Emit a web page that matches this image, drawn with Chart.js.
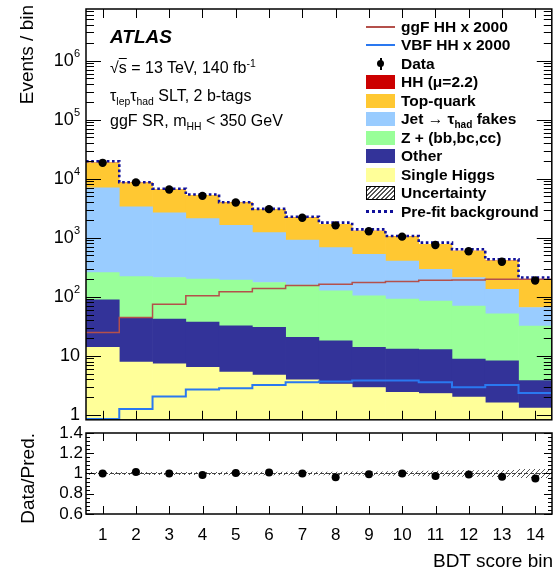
<!DOCTYPE html>
<html>
<head>
<meta charset="utf-8">
<script src="https://cdn.jsdelivr.net/npm/chart.js@4.4.1/dist/chart.umd.min.js"></script>
<style>
  body { margin: 0; background: #fff; font-family: "Liberation Sans", Arial, sans-serif; color: #000; }
  #wrap { position: relative; width: 556px; height: 573px; overflow: hidden; }
  canvas { position: absolute; left: 0; }
  #mainChart { top: 0; }
  #ratioChart { top: 424px; }
  .txt { position: absolute; white-space: nowrap; line-height: 1; }
  sub { font-size: 65%; vertical-align: -0.4em; line-height: 0; }
  sup { font-size: 65%; vertical-align: 0.55em; line-height: 0; }
  .vt { position: absolute; writing-mode: vertical-rl; transform: rotate(180deg); white-space: nowrap; font-size: 19px; line-height: 1; }
  #legend { position: absolute; left: 366px; top: 17.5px; font-size: 15.5px; font-weight: bold; }
  .row { height: 18.5px; display: flex; align-items: center; }
  .row span { white-space: nowrap; }
  .sw { width: 29px; height: 14px; margin-right: 6px; position: relative; flex: none; }
  .ln { position: absolute; left: 0; right: 0; top: 6px; height: 2px; }
</style>
</head>
<body>
<div id="wrap">
  <canvas id="mainChart" width="556" height="424"></canvas>
  <canvas id="ratioChart" width="556" height="149"></canvas>

  <div class="txt" style="left:110px; top:27px; font-size:19px; font-weight:bold; font-style:italic;">ATLAS</div>
  <div class="txt" style="left:110px; top:60px; font-size:16px;">√<span style="text-decoration:overline">s</span> = 13 TeV, 140 fb<sup>-1</sup></div>
  <div class="txt" style="left:110px; top:88px; font-size:16px;">τ<sub>lep</sub>τ<sub>had</sub> SLT, 2 b-tags</div>
  <div class="txt" style="left:110px; top:113px; font-size:16px;">ggF SR, m<sub>HH</sub> &lt; 350 GeV</div>

  <div class="vt" style="left:17px; top:5px;">Events / bin</div>
  <div class="vt" style="left:18px; top:433px;">Data/Pred.</div>
  <div class="txt" style="right:3px; top:551px; font-size:19px;">BDT score bin</div>

  <div id="legend">
    <div class="row"><div class="sw"><div class="ln" style="background:#b4504b"></div></div><span>ggF HH x 2000</span></div>
    <div class="row"><div class="sw"><div class="ln" style="background:#2a78f0"></div></div><span>VBF HH x 2000</span></div>
    <div class="row"><div class="sw"><div style="position:absolute;left:14px;top:1px;width:1.5px;height:12px;background:#000"></div><div style="position:absolute;left:11px;top:3.5px;width:7px;height:7px;border-radius:50%;background:#000"></div></div><span>Data</span></div>
    <div class="row"><div class="sw" style="background:#cc0000"></div><span>HH (μ=2.2)</span></div>
    <div class="row"><div class="sw" style="background:#ffc832"></div><span>Top-quark</span></div>
    <div class="row"><div class="sw" style="background:#99ccff"></div><span>Jet → τ<sub>had</sub> fakes</span></div>
    <div class="row"><div class="sw" style="background:#99ff99"></div><span>Z + (bb,bc,cc)</span></div>
    <div class="row"><div class="sw" style="background:#333399"></div><span>Other</span></div>
    <div class="row"><div class="sw" style="background:#ffff99"></div><span>Single Higgs</span></div>
    <div class="row"><div class="sw" style="box-sizing:border-box;border:1px solid #000;background:repeating-linear-gradient(-45deg,#fff 0 2px,#555 2px 3.2px)"></div><span>Uncertainty</span></div>
    <div class="row"><div class="sw"><div class="ln" style="top:5.5px;height:3px;background:repeating-linear-gradient(90deg,#10109a 0 3px,transparent 3px 6px)"></div></div><span>Pre-fit background</span></div>
  </div>
</div>

<script>
// BDT score bins
const bins = [1, 2, 3, 4, 5, 6, 7, 8, 9, 10, 11, 12, 13, 14];
const xTickLabels = ['1', '2', '3', '4', '5', '6', '7', '8', '9', '10', '11', '12', '13', '14'];

// stacked backgrounds (bottom to top), events / bin
const singleHiggs = [13.9, 7.8, 7.3, 6.4, 5.3, 4.7, 3.9, 3.3, 2.9, 2.4, 2.3, 2.0, 1.6, 1.3];
const other = [75, 37, 34.5, 31, 27, 25.5, 16.6, 14.7, 11, 10.6, 10.4, 6.8, 6.6, 2.5];
const zHF = [168, 175, 170, 161, 159, 144, 137, 108, 90, 78, 72, 61, 43, 28];
const jetFakes = [6760, 3130, 2440, 1905, 1430, 1046, 758, 555, 421, 313, 208, 142, 83, 34];
const topQuark = [11550, 5180, 3915, 3100, 2300, 1800, 1270, 1004, 773, 640, 481, 384, 270, 132];
const hhSignal = [0.03, 0.05, 0.08, 0.11, 0.13, 0.15, 0.17, 0.18, 0.19, 0.2, 0.21, 0.21, 0.22, 0.22];

const dataObs = [18570, 8666, 6567, 5120, 3945, 3050, 2186, 1621, 1290, 1044, 754, 590, 391, 188];
const ggfHH2000 = [24.9, 44.7, 75, 104, 121, 138, 155, 163, 174, 181, 191, 193, 198, 198];
const vbfHH2000 = [0.85, 1.26, 2.04, 2.68, 2.82, 3.21, 3.57, 3.65, 3.8, 3.8, 3.57, 2.94, 3.21, 2.33];
const prefitBkg = [19760, 8700, 6750, 5410, 4000, 3080, 2270, 1800, 1387, 1069, 826, 637, 432, 212];
const bkgUnc = [0.012, 0.012, 0.012, 0.012, 0.013, 0.013, 0.014, 0.015, 0.016, 0.018, 0.025, 0.028, 0.032, 0.04];

const yMainTicks = [1, 10, 100, 1e3, 1e4, 1e5, 1e6];
const yMainTickLabels = ['1', '10', '10^2', '10^3', '10^4', '10^5', '10^6'];
const yRatioTicks = [0.6, 0.8, 1, 1.2, 1.4];
const yRatioTickLabels = ['0.6', '0.8', '1', '1.2', '1.4'];

const FONT = "'Liberation Sans', Arial, sans-serif";
Chart.defaults.font.family = FONT;
Chart.defaults.color = '#000';

const pts = arr => bins.map((b, i) => ({ x: b, y: arr[i] }));
// histogram outline: left bin edges plus closing right edge
const steps = arr => bins.map((b, i) => ({ x: b - 0.5, y: arr[i] }))
  .concat([{ x: bins[bins.length - 1] + 0.5, y: arr[arr.length - 1] }]);

const totalBkg = bins.map((b, i) => singleHiggs[i] + other[i] + zHF[i] + jetFakes[i] + topQuark[i] + hhSignal[i]);
const ratio = bins.map((b, i) => dataObs[i] / totalBkg[i]);

// inward ticks, frame and tick labels, ROOT style
const frameTicks = {
  id: 'frameTicks',
  afterDatasetsDraw(chart, args, opts) {
    const { ctx, chartArea: a, scales } = chart;
    const x = scales.x, y = scales.y;
    ctx.save();
    ctx.strokeStyle = '#000';
    ctx.lineWidth = 1;
    ctx.beginPath();
    bins.forEach(b => {
      const px = Math.round(x.getPixelForValue(b)) + 0.5;
      ctx.moveTo(px, a.bottom); ctx.lineTo(px, a.bottom - opts.xLen);
      ctx.moveTo(px, a.top); ctx.lineTo(px, a.top + opts.xLen);
    });
    const yTick = (v, len) => {
      const py = Math.round(y.getPixelForValue(v)) + 0.5;
      ctx.moveTo(a.left, py); ctx.lineTo(a.left + len, py);
      ctx.moveTo(a.right, py); ctx.lineTo(a.right - len, py);
    };
    opts.major.forEach(v => yTick(v, opts.yMajor));
    opts.minor.forEach(v => yTick(v, opts.yMinor));
    ctx.stroke();
    ctx.lineWidth = 1.5;
    ctx.strokeRect(a.left, a.top, a.right - a.left, a.bottom - a.top);

    // y tick labels, "10^n" drawn with a raised exponent
    ctx.fillStyle = '#000';
    ctx.textBaseline = 'middle';
    ctx.textAlign = 'right';
    const big = opts.ySize + 'px ' + FONT, small = Math.round(opts.ySize * 0.62) + 'px ' + FONT;
    opts.yLabels.forEach((lab, i) => {
      const py = y.getPixelForValue(opts.major[i]);
      const [base, exp] = lab.split('^');
      const right = a.left - opts.yPad;
      if (exp) {
        ctx.font = small;
        const ew = ctx.measureText(exp).width;
        ctx.fillText(exp, right, py - opts.ySize * 0.38);
        ctx.font = big;
        ctx.fillText(base, right - ew, py);
      } else {
        ctx.font = big;
        ctx.fillText(base, right, py);
      }
    });
    if (opts.xLabels) {
      ctx.textAlign = 'center';
      ctx.font = opts.xSize + 'px ' + FONT;
      opts.xLabels.forEach((lab, i) => ctx.fillText(lab, x.getPixelForValue(bins[i]), a.bottom + opts.xPad));
    }
    ctx.restore();
  }
};

const logMinor = [];
yMainTicks.forEach(d => { for (let m = 2; m <= 9; m++) if (d * m < 7.5e6) logMinor.push(d * m); });
const ratioMinor = [];
for (let v = 0.64; v < 1.4; v += 0.04) ratioMinor.push(+v.toFixed(2));

const barDs = (label, arr, color) => ({
  type: 'bar', label, data: pts(arr), backgroundColor: color, borderWidth: 0,
  barPercentage: 1, categoryPercentage: 1, stack: 'bkg', order: 3
});

new Chart(document.getElementById('mainChart'), {
  type: 'bar',
  data: {
    datasets: [
      barDs('Single Higgs', singleHiggs, '#ffff99'),
      barDs('Other', other, '#333399'),
      barDs('Z + (bb,bc,cc)', zHF, '#99ff99'),
      barDs('Jet fakes', jetFakes, '#99ccff'),
      barDs('Top-quark', topQuark, '#ffc832'),
      barDs('HH', hhSignal, '#cc0000'),
      { type: 'line', label: 'ggF HH x 2000', data: steps(ggfHH2000), stepped: 'before', borderColor: '#b4504b', borderWidth: 1.5, pointRadius: 0, stack: 'ggf', order: 2 },
      { type: 'line', label: 'VBF HH x 2000', data: steps(vbfHH2000), stepped: 'before', borderColor: '#2a78f0', borderWidth: 2, pointRadius: 0, stack: 'vbf', order: 2 },
      { type: 'line', label: 'Pre-fit background', data: steps(prefitBkg), stepped: 'before', borderColor: '#10109a', borderWidth: 2.6, borderDash: [2.6, 2.6], pointRadius: 0, stack: 'prefit', order: 1 },
      { type: 'line', label: 'Data', data: pts(dataObs), showLine: false, pointRadius: 4.2, pointBackgroundColor: '#000', pointBorderWidth: 0, stack: 'data', order: 0 }
    ]
  },
  options: {
    responsive: false,
    animation: false,
    layout: { padding: { top: 9, right: 3, left: 86, bottom: 3 } },
    plugins: {
      legend: { display: false },
      tooltip: { enabled: false },
      frameTicks: { xLen: 9, yMajor: 15, yMinor: 8, major: yMainTicks, minor: logMinor,
        yLabels: yMainTickLabels, ySize: 18, yPad: 6 }
    },
    scales: {
      x: { type: 'linear', min: 0.5, max: 14.5, offset: false, display: false },
      y: { type: 'logarithmic', min: 0.823, max: 7.5e6, stacked: true, display: false }
    }
  },
  plugins: [frameTicks]
});

// hatch pattern for the uncertainty band
const pc = document.createElement('canvas');
pc.width = 5; pc.height = 5;
const pctx = pc.getContext('2d');
pctx.strokeStyle = '#555';
pctx.lineWidth = 1;
pctx.beginPath(); pctx.moveTo(-1, 6); pctx.lineTo(6, -1); pctx.stroke();
const hatch = pctx.createPattern(pc, 'repeat');

new Chart(document.getElementById('ratioChart'), {
  type: 'bar',
  data: {
    datasets: [
      { type: 'bar', label: 'Uncertainty', data: bins.map((b, i) => ({ x: b, y: [1 - bkgUnc[i], 1 + bkgUnc[i]] })),
        backgroundColor: hatch, borderWidth: 0, barPercentage: 1, categoryPercentage: 1, order: 3 },
      { type: 'line', label: 'unity', data: [{ x: 0.5, y: 1 }, { x: 14.5, y: 1 }], borderColor: '#444', borderWidth: 1, borderDash: [4, 2], pointRadius: 0, order: 2 },
      { type: 'line', label: 'Data/Pred.', data: pts(ratio), showLine: false, pointRadius: 4, pointBackgroundColor: '#000', pointBorderWidth: 0, order: 0 }
    ]
  },
  options: {
    responsive: false,
    animation: false,
    layout: { padding: { top: 9, right: 3, left: 86, bottom: 59 } },
    plugins: {
      legend: { display: false },
      tooltip: { enabled: false },
      frameTicks: { xLen: 8, yMajor: 8, yMinor: 4, major: yRatioTicks, minor: ratioMinor,
        yLabels: yRatioTickLabels, ySize: 17, yPad: 3, xLabels: xTickLabels, xSize: 17, xPad: 21 }
    },
    scales: {
      x: { type: 'linear', min: 0.5, max: 14.5, offset: false, display: false },
      y: { type: 'linear', min: 0.6, max: 1.4, beginAtZero: false, display: false }
    }
  },
  plugins: [frameTicks]
});
</script>
</body>
</html>
